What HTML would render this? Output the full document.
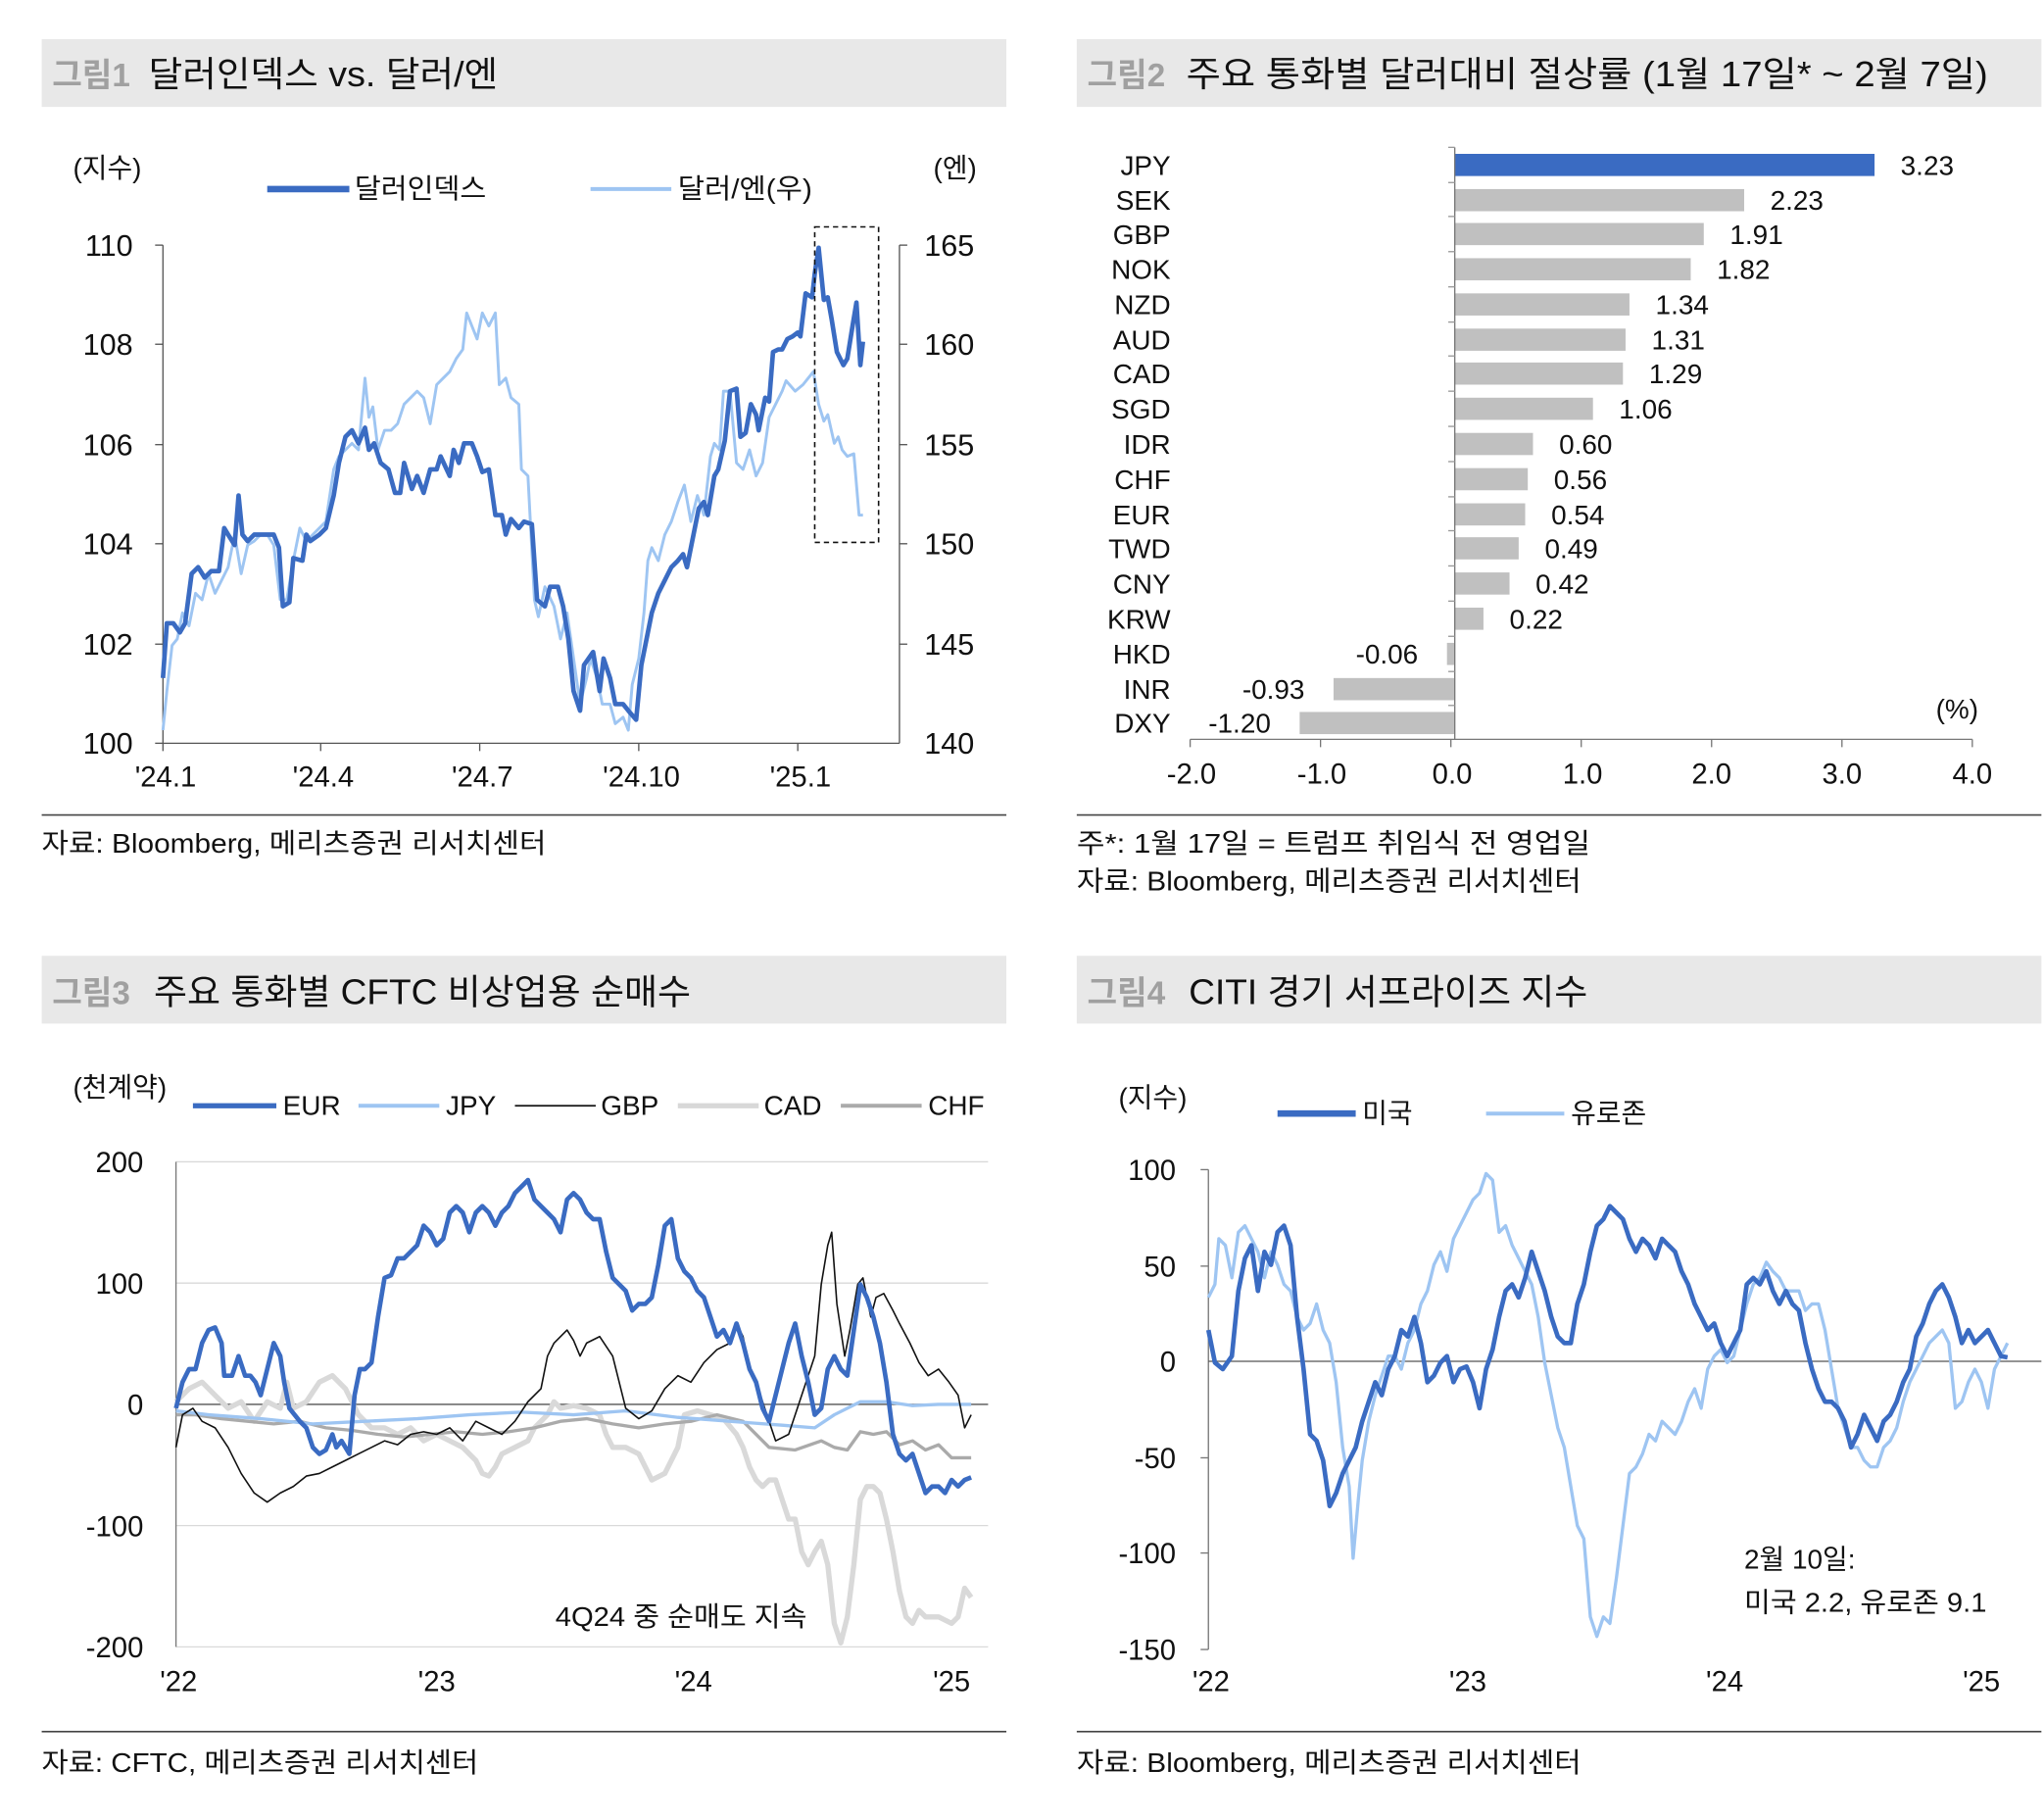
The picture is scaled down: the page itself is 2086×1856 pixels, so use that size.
<!DOCTYPE html>
<html><head><meta charset="utf-8"><style>
html,body{margin:0;padding:0;background:#fff}
svg{display:block}
text{font-family:"Liberation Sans","Noto Sans CJK KR",sans-serif;fill:#111}
</style></head><body>
<svg width="2086" height="1856" viewBox="0 0 1568 1395" preserveAspectRatio="none" xmlns="http://www.w3.org/2000/svg">
<rect x="32" y="30" width="740" height="52" fill="#e8e8e8"/>
<rect x="826" y="30" width="740" height="52" fill="#e8e8e8"/>
<rect x="32" y="733" width="740" height="52" fill="#e8e8e8"/>
<rect x="826" y="733" width="740" height="52" fill="#e8e8e8"/>
<text x="40" y="66" font-size="25" font-weight="bold" style="fill:#a0a0a0">그림1</text>
<text x="114" y="66" font-size="27" textLength="268" lengthAdjust="spacingAndGlyphs">달러인덱스 vs. 달러/엔</text>
<text x="834" y="66" font-size="25" font-weight="bold" style="fill:#a0a0a0">그림2</text>
<text x="910" y="66" font-size="27" textLength="615" lengthAdjust="spacingAndGlyphs">주요 통화별 달러대비 절상률 (1월 17일* ~ 2월 7일)</text>
<text x="40" y="770" font-size="25" font-weight="bold" style="fill:#a0a0a0">그림3</text>
<text x="118" y="770" font-size="27" textLength="412" lengthAdjust="spacingAndGlyphs">주요 통화별 CFTC 비상업용 순매수</text>
<text x="834" y="770" font-size="25" font-weight="bold" style="fill:#a0a0a0">그림4</text>
<text x="912" y="770" font-size="27" textLength="306" lengthAdjust="spacingAndGlyphs">CITI 경기 서프라이즈 지수</text>

<line x1="32" y1="625" x2="772" y2="625" stroke="#444" stroke-width="1.2"/>
<line x1="826" y1="625" x2="1566" y2="625" stroke="#444" stroke-width="1.2"/>
<line x1="32" y1="1328" x2="772" y2="1328" stroke="#444" stroke-width="1.2"/>
<line x1="826" y1="1328" x2="1566" y2="1328" stroke="#444" stroke-width="1.2"/>
<text x="32" y="654" font-size="21" textLength="387" lengthAdjust="spacingAndGlyphs">자료: Bloomberg, 메리츠증권 리서치센터</text>
<text x="826" y="654" font-size="21" textLength="394" lengthAdjust="spacingAndGlyphs">주*: 1월 17일 = 트럼프 취임식 전 영업일</text>
<text x="826" y="683" font-size="21" textLength="387" lengthAdjust="spacingAndGlyphs">자료: Bloomberg, 메리츠증권 리서치센터</text>
<text x="32" y="1359" font-size="21" textLength="335" lengthAdjust="spacingAndGlyphs">자료: CFTC, 메리츠증권 리서치센터</text>
<text x="826" y="1359" font-size="21" textLength="387" lengthAdjust="spacingAndGlyphs">자료: Bloomberg, 메리츠증권 리서치센터</text>

<!-- ===== Chart 1 ===== -->
<text x="56" y="136" font-size="21">(지수)</text>
<text x="716" y="136" font-size="21">(엔)</text>
<line x1="205" y1="145" x2="268" y2="145" stroke="#3a6bc2" stroke-width="5"/>
<text x="272" y="152" font-size="21" textLength="101" lengthAdjust="spacingAndGlyphs">달러인덱스</text>
<line x1="453" y1="145" x2="515" y2="145" stroke="#9ec5f2" stroke-width="3"/>
<text x="520" y="152" font-size="21" textLength="103" lengthAdjust="spacingAndGlyphs">달러/엔(우)</text>
<g stroke="#555" stroke-width="1">
<line x1="125" y1="188" x2="125" y2="570"/><line x1="125" y1="570" x2="690" y2="570"/><line x1="690" y1="188" x2="690" y2="570"/>
<line x1="119" y1="188" x2="125" y2="188"/><line x1="119" y1="264" x2="125" y2="264"/><line x1="119" y1="341" x2="125" y2="341"/><line x1="119" y1="417" x2="125" y2="417"/><line x1="119" y1="494" x2="125" y2="494"/><line x1="119" y1="570" x2="125" y2="570"/>
<line x1="690" y1="188" x2="696" y2="188"/><line x1="690" y1="264" x2="696" y2="264"/><line x1="690" y1="341" x2="696" y2="341"/><line x1="690" y1="417" x2="696" y2="417"/><line x1="690" y1="494" x2="696" y2="494"/>
<line x1="125" y1="570" x2="125" y2="576"/><line x1="246" y1="570" x2="246" y2="576"/><line x1="368" y1="570" x2="368" y2="576"/><line x1="490" y1="570" x2="490" y2="576"/><line x1="612" y1="570" x2="612" y2="576"/>
</g>
<g font-size="23" text-anchor="end">
<text x="102" y="196">110</text><text x="102" y="272">108</text><text x="102" y="349">106</text><text x="102" y="425">104</text><text x="102" y="502">102</text><text x="102" y="578">100</text>
</g>
<g font-size="23">
<text x="709" y="196">165</text><text x="709" y="272">160</text><text x="709" y="349">155</text><text x="709" y="425">150</text><text x="709" y="502">145</text><text x="709" y="578">140</text>
</g>
<g font-size="22" text-anchor="middle">
<text x="127" y="603">'24.1</text><text x="248" y="603">'24.4</text><text x="370" y="603">'24.7</text><text x="492" y="603">'24.10</text><text x="614" y="603">'25.1</text>
</g>
<polyline fill="none" stroke="#9ec5f2" stroke-width="2.2" stroke-linejoin="round" points="125,560 128,530 132,495 136,490 140,470 145,480 150,455 155,460 160,440 165,455 170,445 175,435 180,410 185,440 190,418 195,415 200,410 205,410 210,418 215,460 220,460 225,430 230,405 235,415 240,410 245,405 250,400 256,360 260,350 265,345 270,340 275,345 280,290 283,320 286,312 290,345 295,330 300,330 305,325 310,310 315,305 320,300 325,305 330,325 335,295 340,290 345,285 350,275 355,268 358,240 362,250 366,260 370,240 375,250 380,240 383,295 388,290 392,305 398,310 400,360 405,365 410,460 413,473 418,450 425,465 430,490 435,470 440,505 445,540 450,520 453,505 458,520 462,540 468,540 472,555 478,550 482,560 485,525 490,505 494,470 497,430 500,420 505,430 510,410 515,400 520,385 525,372 530,400 535,380 540,395 545,350 548,340 552,345 555,300 560,300 565,355 570,360 575,345 580,365 585,355 590,320 595,310 600,300 603,292 610,300 616,295 620,290 624,285 628,310 632,323 635,318 640,340 643,335 646,345 650,350 655,348 659,395 662,395"/>
<polyline fill="none" stroke="#3a6bc2" stroke-width="3.5" stroke-linejoin="round" points="125,520 128,478 133,478 138,485 142,478 147,440 152,435 157,443 162,438 168,438 172,405 175,410 180,418 183,380 186,410 190,415 195,410 200,410 205,410 210,410 214,420 217,465 222,462 225,428 232,430 235,410 238,415 245,410 250,405 256,380 260,355 265,335 270,330 275,340 280,328 283,345 287,340 292,355 298,360 303,378 307,378 310,355 316,375 320,365 325,378 330,360 335,360 338,350 345,365 348,345 352,355 356,340 362,340 366,350 370,362 375,360 380,395 385,395 388,410 392,398 398,405 402,400 408,402 412,460 418,465 422,450 428,450 432,465 436,490 440,530 445,545 448,510 455,500 460,530 463,505 468,520 472,540 478,540 482,545 488,552 492,510 496,490 500,470 505,455 510,445 515,435 520,430 524,425 527,435 530,420 536,390 540,385 543,395 548,365 551,360 556,338 560,300 565,298 568,335 572,332 576,310 580,318 582,330 587,305 590,308 593,270 597,268 600,268 604,260 608,258 612,255 614,258 618,225 623,228 625,210 628,190 632,230 635,228 638,245 642,270 647,280 650,275 654,250 657,232 660,280 662,262"/>
<rect x="625" y="174" width="49" height="242" fill="none" stroke="#111" stroke-width="1.2" stroke-dasharray="4,3"/>

<!-- ===== Chart 2 ===== -->
<g font-size="21">
<g text-anchor="end">
<text x="898" y="134">JPY</text><text x="898" y="161">SEK</text><text x="898" y="187">GBP</text><text x="898" y="214">NOK</text><text x="898" y="241">NZD</text><text x="898" y="268">AUD</text><text x="898" y="294">CAD</text><text x="898" y="321">SGD</text><text x="898" y="348">IDR</text><text x="898" y="375">CHF</text><text x="898" y="402">EUR</text><text x="898" y="428">TWD</text><text x="898" y="455">CNY</text><text x="898" y="482">KRW</text><text x="898" y="509">HKD</text><text x="898" y="536">INR</text><text x="898" y="562">DXY</text>
</g>
<rect x="1116" y="118" width="322" height="17" fill="#3a6bc2"/>
<g fill="#c0c0c0">
<rect x="1116" y="145" width="222" height="17"/><rect x="1116" y="171" width="191" height="17"/><rect x="1116" y="198" width="181" height="17"/><rect x="1116" y="225" width="134" height="17"/><rect x="1116" y="252" width="131" height="17"/><rect x="1116" y="278" width="129" height="17"/><rect x="1116" y="305" width="106" height="17"/><rect x="1116" y="332" width="60" height="17"/><rect x="1116" y="359" width="56" height="17"/><rect x="1116" y="386" width="54" height="17"/><rect x="1116" y="412" width="49" height="17"/><rect x="1116" y="439" width="42" height="17"/><rect x="1116" y="466" width="22" height="17"/><rect x="1110" y="493" width="6" height="17"/><rect x="1023" y="520" width="93" height="17"/><rect x="997" y="546" width="119" height="17"/>
</g>
<text x="1458" y="134">3.23</text><text x="1358" y="161">2.23</text><text x="1327" y="187">1.91</text><text x="1317" y="214">1.82</text><text x="1270" y="241">1.34</text><text x="1267" y="268">1.31</text><text x="1265" y="294">1.29</text><text x="1242" y="321">1.06</text><text x="1196" y="348">0.60</text><text x="1192" y="375">0.56</text><text x="1190" y="402">0.54</text><text x="1185" y="428">0.49</text><text x="1178" y="455">0.42</text><text x="1158" y="482">0.22</text>
<text x="1040" y="509">-0.06</text><text x="953" y="536">-0.93</text><text x="927" y="562">-1.20</text>
<text x="1485" y="551">(%)</text>
<g text-anchor="middle" font-size="22">
<text x="914" y="601">-2.0</text><text x="1014" y="601">-1.0</text><text x="1114" y="601">0.0</text><text x="1214" y="601">1.0</text><text x="1313" y="601">2.0</text><text x="1413" y="601">3.0</text><text x="1513" y="601">4.0</text>
</g>
</g>
<g stroke="#777" stroke-width="1">
<line x1="1116" y1="113" x2="1116" y2="567"/><line x1="913" y1="567" x2="1513" y2="567"/>
<line x1="913" y1="567" x2="913" y2="573"/><line x1="1013" y1="567" x2="1013" y2="573"/><line x1="1113" y1="567" x2="1113" y2="573"/><line x1="1213" y1="567" x2="1213" y2="573"/><line x1="1313" y1="567" x2="1313" y2="573"/><line x1="1413" y1="567" x2="1413" y2="573"/><line x1="1513" y1="567" x2="1513" y2="573"/>
</g>
<g stroke="#999" stroke-width="1">
<line x1="1111" y1="113" x2="1116" y2="113"/><line x1="1111" y1="140" x2="1116" y2="140"/><line x1="1111" y1="166" x2="1116" y2="166"/><line x1="1111" y1="193" x2="1116" y2="193"/><line x1="1111" y1="220" x2="1116" y2="220"/><line x1="1111" y1="247" x2="1116" y2="247"/><line x1="1111" y1="273" x2="1116" y2="273"/><line x1="1111" y1="300" x2="1116" y2="300"/><line x1="1111" y1="327" x2="1116" y2="327"/><line x1="1111" y1="354" x2="1116" y2="354"/><line x1="1111" y1="381" x2="1116" y2="381"/><line x1="1111" y1="407" x2="1116" y2="407"/><line x1="1111" y1="434" x2="1116" y2="434"/><line x1="1111" y1="461" x2="1116" y2="461"/><line x1="1111" y1="488" x2="1116" y2="488"/><line x1="1111" y1="515" x2="1116" y2="515"/><line x1="1111" y1="541" x2="1116" y2="541"/>
</g>

<!-- ===== Chart 3 ===== -->
<text x="56" y="841" font-size="21">(천계약)</text>
<line x1="148" y1="848" x2="212" y2="848" stroke="#3a6bc2" stroke-width="4"/><text x="217" y="855" font-size="21">EUR</text>
<line x1="275" y1="848" x2="337" y2="848" stroke="#9ec5f2" stroke-width="3"/><text x="342" y="855" font-size="21">JPY</text>
<line x1="395" y1="848" x2="457" y2="848" stroke="#111" stroke-width="1.3"/><text x="461" y="855" font-size="21">GBP</text>
<line x1="520" y1="848" x2="582" y2="848" stroke="#d8d8d8" stroke-width="4"/><text x="586" y="855" font-size="21">CAD</text>
<line x1="645" y1="848" x2="707" y2="848" stroke="#aaa" stroke-width="3"/><text x="712" y="855" font-size="21">CHF</text>
<g stroke="#d9d9d9" stroke-width="1">
<line x1="135" y1="891" x2="758" y2="891"/><line x1="135" y1="984" x2="758" y2="984"/><line x1="135" y1="1170" x2="758" y2="1170"/><line x1="135" y1="1263" x2="758" y2="1263"/>
</g>
<line x1="135" y1="1077" x2="758" y2="1077" stroke="#555" stroke-width="1"/>
<line x1="135" y1="891" x2="135" y2="1263" stroke="#777" stroke-width="1"/>
<g font-size="22" text-anchor="end">
<text x="110" y="899">200</text><text x="110" y="992">100</text><text x="110" y="1085">0</text><text x="110" y="1178">-100</text><text x="110" y="1271">-200</text>
</g>
<g font-size="22" text-anchor="middle">
<text x="137" y="1297">'22</text><text x="335" y="1297">'23</text><text x="532" y="1297">'24</text><text x="730" y="1297">'25</text>
</g>
<text x="426" y="1247" font-size="21" textLength="193" lengthAdjust="spacingAndGlyphs">4Q24 중 순매도 지속</text>
<polyline fill="none" stroke="#d9d9d9" stroke-width="4" stroke-linejoin="round" points="135,1075 145,1065 155,1060 165,1070 175,1080 185,1075 195,1090 205,1075 215,1080 220,1060 225,1080 235,1075 245,1060 255,1055 265,1065 275,1085 285,1095 295,1095 305,1100 315,1095 325,1105 335,1100 345,1105 355,1110 365,1120 370,1130 375,1132 380,1125 385,1115 395,1110 405,1105 410,1095 420,1085 425,1075 430,1080 440,1078 450,1080 460,1085 465,1100 470,1110 480,1110 490,1115 500,1135 510,1130 520,1110 525,1085 535,1082 545,1085 555,1088 565,1100 570,1110 575,1125 580,1135 585,1140 590,1135 595,1135 600,1150 605,1165 610,1165 615,1190 620,1200 625,1190 630,1182 635,1200 640,1245 645,1260 650,1240 655,1200 660,1150 665,1140 670,1140 675,1145 680,1165 685,1190 690,1220 695,1240 700,1245 705,1235 710,1240 720,1240 730,1245 735,1240 740,1218 745,1225"/>
<polyline fill="none" stroke="#aaa" stroke-width="2.5" stroke-linejoin="round" points="135,1085 150,1085 170,1088 190,1090 210,1092 230,1090 250,1095 270,1097 290,1100 310,1102 330,1100 350,1098 370,1100 390,1098 410,1095 430,1090 450,1088 470,1092 490,1095 510,1092 530,1090 550,1085 570,1090 590,1110 610,1112 630,1105 640,1110 650,1112 660,1098 670,1100 680,1098 690,1108 700,1105 710,1112 720,1108 730,1118 745,1118"/>
<polyline fill="none" stroke="#9ec5f2" stroke-width="2.5" stroke-linejoin="round" points="135,1082 160,1085 200,1088 240,1092 280,1090 320,1088 360,1085 400,1083 440,1085 480,1082 520,1087 560,1090 600,1093 625,1095 640,1085 660,1075 680,1075 700,1078 720,1077 745,1077"/>
<polyline fill="none" stroke="#111" stroke-width="1.2" stroke-linejoin="round" points="135,1110 140,1085 148,1080 155,1090 165,1095 175,1110 185,1130 195,1145 205,1152 215,1145 225,1140 235,1132 245,1130 255,1125 265,1120 275,1115 285,1110 295,1105 305,1108 315,1100 325,1098 335,1100 345,1095 355,1105 365,1090 375,1095 385,1100 395,1090 405,1075 415,1065 420,1040 425,1030 435,1020 440,1028 445,1040 450,1030 460,1025 470,1040 480,1080 490,1088 500,1082 510,1065 520,1055 530,1060 540,1045 550,1035 560,1030 565,1015 570,1025 575,1050 580,1060 585,1075 590,1090 595,1105 605,1100 615,1070 625,1040 630,985 635,955 638,945 642,1000 648,1040 652,1020 658,985 662,980 668,1010 672,995 678,992 685,1005 690,1015 698,1030 705,1045 712,1055 720,1050 728,1060 735,1070 740,1095 745,1085"/>
<polyline fill="none" stroke="#3a6bc2" stroke-width="3.5" stroke-linejoin="round" points="135,1080 140,1060 145,1050 150,1050 155,1030 160,1020 165,1018 170,1030 172,1055 178,1055 183,1040 188,1055 192,1055 196,1060 200,1070 205,1050 210,1030 215,1040 218,1060 222,1080 226,1085 230,1090 235,1095 240,1110 245,1115 250,1112 255,1100 258,1110 262,1105 268,1115 272,1070 276,1050 280,1050 285,1045 290,1010 295,980 300,978 305,965 310,965 315,960 320,955 325,940 330,945 335,955 340,950 345,930 350,925 355,930 360,945 365,930 370,925 375,930 380,940 385,930 390,925 395,915 400,910 405,905 410,920 415,925 420,930 425,935 430,945 435,920 440,915 445,920 450,930 455,935 460,935 465,960 470,980 475,985 480,990 485,1005 490,1000 495,1000 500,995 505,970 510,940 515,935 520,965 525,975 530,980 535,990 540,995 545,1010 550,1025 555,1020 560,1030 565,1015 570,1030 575,1050 580,1060 585,1080 590,1090 595,1070 600,1050 605,1030 610,1015 615,1040 620,1060 625,1085 630,1080 635,1050 640,1040 645,1050 650,1055 655,1020 660,985 665,995 670,1010 675,1030 680,1060 685,1100 690,1115 695,1120 700,1115 705,1130 710,1145 715,1140 720,1140 725,1145 730,1135 735,1140 740,1135 745,1133"/>

<!-- ===== Chart 4 ===== -->
<text x="858" y="849" font-size="21">(지수)</text>
<line x1="980" y1="854" x2="1040" y2="854" stroke="#3a6bc2" stroke-width="5"/><text x="1045" y="861" font-size="21">미국</text>
<line x1="1140" y1="854" x2="1200" y2="854" stroke="#9ec5f2" stroke-width="3"/><text x="1205" y="861" font-size="21">유로존</text>
<line x1="927" y1="897" x2="927" y2="1265" stroke="#777" stroke-width="1"/>
<g stroke="#777" stroke-width="1">
<line x1="921" y1="897" x2="927" y2="897"/><line x1="921" y1="971" x2="927" y2="971"/><line x1="921" y1="1118" x2="927" y2="1118"/><line x1="921" y1="1191" x2="927" y2="1191"/><line x1="921" y1="1265" x2="927" y2="1265"/>
</g>
<line x1="927" y1="1044" x2="1566" y2="1044" stroke="#555" stroke-width="1"/>
<g font-size="22" text-anchor="end">
<text x="902" y="905">100</text><text x="902" y="979">50</text><text x="902" y="1052">0</text><text x="902" y="1126">-50</text><text x="902" y="1199">-100</text><text x="902" y="1273">-150</text>
</g>
<g font-size="22" text-anchor="middle">
<text x="929" y="1297">'22</text><text x="1126" y="1297">'23</text><text x="1323" y="1297">'24</text><text x="1520" y="1297">'25</text>
</g>
<text x="1338" y="1203" font-size="21">2월 10일:</text>
<text x="1338" y="1236" font-size="21" textLength="186" lengthAdjust="spacingAndGlyphs">미국 2.2, 유로존 9.1</text>
<polyline fill="none" stroke="#9ec5f2" stroke-width="2.5" stroke-linejoin="round" points="927,995 932,985 935,950 940,955 945,980 950,945 955,940 960,950 965,960 970,980 975,960 980,970 985,985 990,990 995,1010 1000,1020 1005,1015 1010,1000 1015,1020 1020,1030 1025,1060 1030,1110 1035,1140 1038,1195 1042,1150 1045,1120 1050,1090 1055,1070 1060,1055 1065,1040 1070,1040 1075,1050 1080,1030 1085,1020 1090,1000 1095,990 1100,970 1105,960 1110,975 1115,950 1120,940 1125,930 1130,920 1135,915 1140,900 1145,905 1150,945 1155,940 1160,955 1165,965 1170,975 1175,985 1180,1010 1185,1045 1190,1070 1195,1095 1200,1110 1205,1140 1210,1170 1215,1180 1220,1240 1225,1255 1230,1240 1235,1245 1240,1210 1245,1170 1250,1130 1255,1125 1260,1115 1265,1100 1270,1105 1275,1090 1280,1095 1285,1100 1290,1090 1295,1075 1300,1065 1305,1080 1310,1050 1315,1040 1320,1035 1325,1045 1330,1040 1335,1020 1340,1000 1345,985 1350,980 1355,968 1360,975 1365,980 1370,990 1375,990 1380,990 1385,1005 1390,1000 1395,1000 1400,1020 1405,1050 1410,1080 1415,1095 1420,1110 1425,1110 1430,1120 1435,1125 1440,1125 1445,1110 1450,1105 1455,1095 1460,1075 1465,1060 1470,1050 1475,1040 1480,1030 1485,1025 1490,1020 1495,1030 1500,1080 1505,1075 1510,1060 1515,1050 1520,1060 1525,1080 1530,1050 1535,1040 1540,1030"/>
<polyline fill="none" stroke="#3a6bc2" stroke-width="3.5" stroke-linejoin="round" points="927,1020 932,1045 938,1050 945,1040 950,990 955,965 960,955 965,990 970,960 975,970 980,945 985,940 990,955 995,1010 1000,1050 1005,1100 1010,1105 1015,1120 1020,1155 1025,1145 1030,1130 1035,1120 1040,1110 1045,1090 1050,1075 1055,1060 1060,1070 1065,1050 1070,1040 1075,1020 1080,1025 1085,1010 1090,1030 1095,1060 1100,1055 1105,1045 1110,1040 1115,1060 1120,1050 1125,1048 1130,1060 1135,1080 1140,1050 1145,1035 1150,1010 1155,990 1160,985 1165,995 1170,980 1175,960 1180,975 1185,990 1190,1010 1195,1025 1200,1030 1205,1030 1210,1000 1215,985 1220,960 1225,940 1230,935 1235,925 1240,930 1245,935 1250,950 1255,960 1260,950 1265,955 1270,965 1275,950 1280,955 1285,960 1290,975 1295,985 1300,1000 1305,1010 1310,1020 1315,1015 1320,1030 1325,1040 1330,1030 1335,1020 1340,985 1345,980 1350,985 1355,975 1360,990 1365,1000 1370,990 1375,1000 1380,1005 1385,1030 1390,1050 1395,1065 1400,1075 1405,1075 1410,1080 1415,1090 1420,1110 1425,1100 1430,1085 1435,1095 1440,1105 1445,1090 1450,1085 1455,1075 1460,1060 1465,1050 1470,1025 1475,1015 1480,1000 1485,990 1490,985 1495,995 1500,1010 1505,1030 1510,1020 1515,1030 1520,1025 1525,1020 1530,1030 1535,1040 1540,1041"/>
</svg>
</body></html>
